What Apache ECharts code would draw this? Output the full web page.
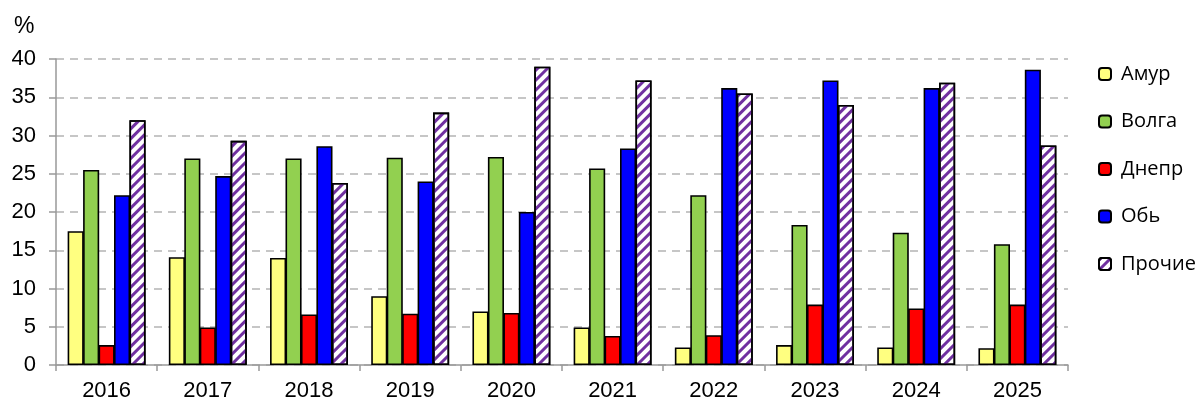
<!DOCTYPE html>
<html><head><meta charset="utf-8">
<script src="https://cdn.jsdelivr.net/npm/echarts@6/dist/echarts.min.js"></script>
<style>html,body{margin:0;padding:0;background:#fff}#c{width:1201px;height:405px}</style>
</head><body><div id="c"></div>
<script>
const categories = ['2016','2017','2018','2019','2020','2021','2022','2023','2024','2025'];
const seriesNames = ['Амур','Волга','Днепр','Обь','Прочие'];
const amur   = [17.5, 14.1, 14.0, 9.0, 7.0, 4.9, 2.3, 2.6, 2.3, 2.2];
const volga  = [25.5, 27.0, 27.0, 27.1, 27.2, 25.7, 22.2, 18.3, 17.3, 15.8];
const dnepr  = [2.6, 4.9, 6.6, 6.7, 6.8, 3.8, 3.9, 7.9, 7.4, 7.9];
const ob     = [22.2, 24.7, 28.6, 24.0, 20.0, 28.3, 36.2, 37.2, 36.2, 38.6];
const other  = [32.0, 29.3, 23.8, 33.0, 39.0, 37.2, 35.5, 34.0, 36.9, 28.7];
const yTicks = [0,5,10,15,20,25,30,35,40];

const colors = ['#ffff80','#92d050','#ff0000','#0000ff','#ffffff'];
const values = [amur, volga, dnepr, ob, other];

const chart = echarts.init(document.getElementById('c'));
const series = seriesNames.map((n,i)=>{
  const s = {
    name: n, type: 'bar', data: values[i],
    barGap: '-4%', barCategoryGap: '23%',
    itemStyle: {color: colors[i], borderColor: '#000', borderWidth: 1.6},
    emphasis: {disabled: true}
  };
  if (i === 4) {
    s.itemStyle.decal = {
      symbol: 'rect', color: '#7030a0',
      dashArrayX: [1, 0], dashArrayY: [2.8, 3.8], rotation: -Math.PI/4
    };
  }
  return s;
});

chart.setOption({
  animation: false,
  backgroundColor: '#fff',
  grid: {left: 56, right: 133, top: 59, bottom: 40, containLabel: false},
  graphic: [{type: 'text', left: 14, top: 15,
    style: {text: '%', fontFamily: 'Liberation Sans', fontSize: 23, fill: '#000'}}],
  legend: {
    orient: 'vertical', left: 1093, top: 59,
    itemWidth: 12, itemHeight: 12, itemGap: 27.5,
    textStyle: {fontFamily: 'Open Sans', fontSize: 20, color: '#000', padding: [0,0,0,5]},
    data: seriesNames
  },
  xAxis: {
    type: 'category', data: categories,
    axisLine: {lineStyle: {color: '#999', width: 1.5}},
    axisTick: {show: true, length: 6, lineStyle: {color: '#999', width: 1.5}},
    axisLabel: {fontFamily: 'Liberation Sans', fontSize: 22, color: '#000', margin: 15}
  },
  yAxis: {
    type: 'value', min: 0, max: 40, interval: 5,
    axisLine: {show: true, lineStyle: {color: '#999', width: 1.5}},
    axisTick: {show: true, length: 7, lineStyle: {color: '#999', width: 1.5}},
    axisLabel: {fontFamily: 'Liberation Sans', fontSize: 22, color: '#000', margin: 20,
      formatter: v => yTicks.includes(v) ? String(v) : ''},
    splitLine: {lineStyle: {color: '#b4b4b4', type: [8, 6], width: 1.5}}
  },
  series: series
});
</script></body></html>
